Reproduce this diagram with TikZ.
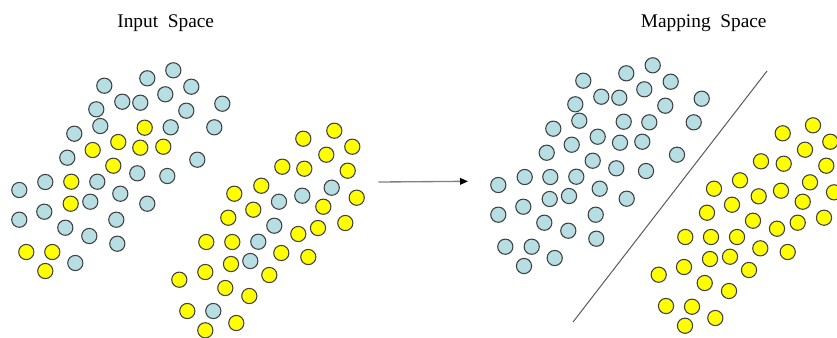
\documentclass[tikz,border=0pt]{standalone}
\usepackage{fontspec}
\setmainfont{Liberation Serif}
\usetikzlibrary{arrows.meta}
\definecolor{dotblue}{RGB}{183,222,226}
\definecolor{dotyellow}{RGB}{255,255,0}
\definecolor{dotline}{RGB}{64,64,64}
\tikzset{
  dot/.style={circle,draw=dotline,line width=0.8pt,minimum size=11.4pt,inner sep=0pt},
  bdot/.style={dot,fill=dotblue},
  ydot/.style={dot,fill=dotyellow},
  title/.style={font=\fontsize{14.5pt}{16pt}\selectfont,inner sep=0pt,anchor=base},
}
\begin{document}
\begin{tikzpicture}[x=0.75pt,y=-0.75pt]
\useasboundingbox (0,0) rectangle (837,337);
\node[title] (tin) at (165.7,27.7) {Input\ \ Space};
\node[title] (tmap) at (703.7,27.7) {Mapping\ \ Space};
% left blue
\foreach \x/\y [count=\i] in {104.3/85.7,147.3/78.3,173.3/70.3,191.3/86.7,122.3/101.7,140.3/102.7,165.3/94.3,222.3/103.7,96.3/109.3,186.3/110.7,100.3/126,170.7/127.3,214.3/127.3,74.3/133.7,67.3/157.7,197.3/159.7,137.3/173.3,167.3/176,19.3/190,45.3/182,97.3/181.7,120.3/193.7,90.3/201.7,147.3/203.7,19.3/219.7,44.3/211.7,116.3/219.7,65.3/227.7,89.3/236,117.3/243.7,75.3/263,279/201.7,302.3/195.7,331.7/187.7,274.3/225.7,258.3/241.7,250.3/261,213.3/311}
  \node[bdot] (lb\i) at (\x,\y) {};
% left yellow
\foreach \x/\y [count=\i] in {144.7/127.7,92.7/150,118.3/142,140.3/147.7,163.3/146.7,113.3/165.7,71.3/181.7,70.7/203.7,26.3/252,52.3/252,45.3/271,303.3/138.7,334.3/130.7,352.3/146.7,326.3/154.7,282.3/166.7,304.3/168.7,347.7/170.7,234.3/193.7,261.3/185.7,356.7/197.7,253.3/209.7,323.3/206.7,228.3/217.7,318/228,345.3/223,298.3/234,206.3/242,232.3/242,281.3/253,308.3/257,231/264,205.3/272,179.3/279.7,269.3/275,225.3/288,249.3/296,187.3/311,236.3/323,205.3/330.3}
  \node[ydot] (ly\i) at (\x,\y) {};
% right blue
\foreach \x/\y [count=\i] in {583.3/80.7,626.3/73.3,652.7/65.3,670.7/81.7,601.3/96.7,619.3/97.7,644.3/89.3,701.7/98.7,575.3/104.3,665.3/105.7,579.3/120.7,623.7/121.7,649.3/122.3,693.7/122.3,553.3/128.7,597.7/136.7,620/142.7,642.3/141.7,571.7/144.7,546.7/152.7,592.7/160.7,677/154.7,616.3/168.3,646/171,498.3/185,524.7/177,550.3/177,576.3/176.7,599.7/188.7,549.7/199,569/196,626.7/198.7,498.3/214.7,523.3/206.7,595.7/214.7,544.3/222.7,568.3/230.7,596.3/238.7,505.3/246.7,531.7/246.7,554.7/258,524/266}
  \node[bdot] (rb\i) at (\x,\y) {};
% right yellow
\foreach \x/\y [count=\i] in {782.7/133.3,813/125.3,830.3/141.7,805/149.7,761/161.3,783.7/163.7,826.3/165.7,740/180.3,714/188.7,758.7/196.3,781/190.7,810/182.3,834/192.3,732/204.7,802.7/201.7,707/212.7,753/220.7,797.7/222.7,824/217.7,777/228.7,685.3/237,711/237,737/237,760.3/248.3,787.7/252,710/259,730/256.7,684/267,658.7/274.7,749/270,704.7/283,729/291,666/306,692/306.7,715.3/318,685/325.7}
  \node[ydot] (ry\i) at (\x,\y) {};
% separating line
\coordinate (s1) at (573,322);
\coordinate (s2) at (767,71);
\draw[color={rgb,255:red,90;green,90;blue,90},line width=0.75pt] (s1) -- (s2);
% mapping arrow
\coordinate (a1) at (378.3,182);
\coordinate (a2) at (468,181.3);
\draw[color={rgb,255:red,128;green,128;blue,128},line width=1pt,-{Triangle[length=6pt,width=5pt,color=black]}] (a1) -- (a2);
\end{tikzpicture}
\end{document}
